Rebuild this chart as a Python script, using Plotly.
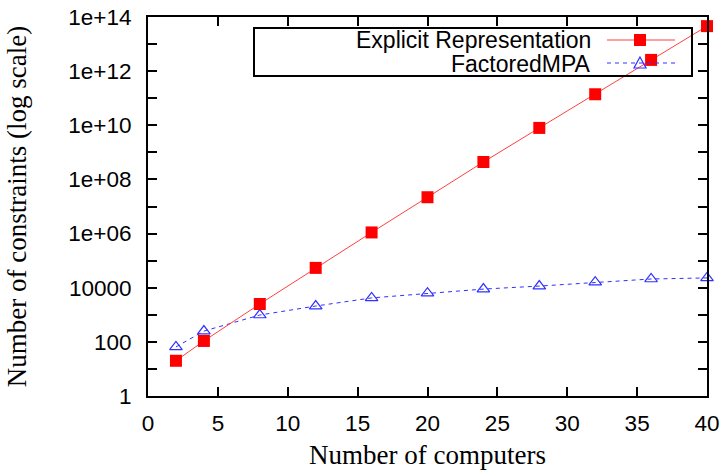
import plotly.graph_objects as go

computers = [2, 4, 8, 12, 16, 20, 24, 28, 32, 36, 40]
explicit = [20, 108, 2500, 5.4e4, 1.1e6, 2.2e7, 4.4e8, 8.0e9, 1.4e11, 2.6e12, 4.6e13]
factored = [65, 250, 980, 2100, 4200, 6300, 8900, 11500, 16000, 21000, 23000]

ytick_vals = [10**k for k in range(0, 15)]
ytick_text = ["1", "", "100", "", "10000", "", "1e+06", "", "1e+08", "", "1e+10", "", "1e+12", "", "1e+14"]
xtick_vals = [0, 5, 10, 15, 20, 25, 30, 35, 40]

fig = go.Figure()
fig.add_trace(go.Scatter(
    x=computers, y=factored, mode="lines+markers", name="FactoredMPA",
    line=dict(color="#3030ff", width=1, dash="4px,4px"),
    marker=dict(symbol="triangle-up-open", size=11, color="#3030ff", line=dict(width=1.2)),
    showlegend=False, cliponaxis=False))
fig.add_trace(go.Scatter(
    x=computers, y=explicit, mode="lines+markers", name="Explicit Representation",
    line=dict(color="#ff4040", width=1),
    marker=dict(symbol="square", size=12, color="#ff0000"),
    showlegend=False, cliponaxis=False))

axis_common = dict(showline=True, linecolor="black", linewidth=2, mirror="allticks",
                   ticks="inside", ticklen=9, tickwidth=2, tickcolor="black",
                   showgrid=False, zeroline=False, automargin=False,
                   tickfont=dict(family="Liberation Sans, Arial", size=22.5, color="black"))

fig.update_xaxes(range=[0, 40], tickvals=xtick_vals, ticklabelstandoff=6,
                 title=dict(text="Number of computers", standoff=12,
                            font=dict(family="Liberation Serif, Times New Roman", size=27, color="black")),
                 **axis_common)
fig.update_yaxes(type="log", range=[0, 14], tickvals=ytick_vals, ticktext=ytick_text,
                 ticklabelstandoff=10,
                 title=dict(text="Number of constraints (log scale)", standoff=34,
                            font=dict(family="Liberation Serif, Times New Roman", size=27, color="black")),
                 **axis_common)

# Manual legend (text right-aligned, sample to the right, as in the original)
shapes = [
    dict(type="rect", xref="paper", yref="paper", x0=(254-148)/559, x1=(692-148)/559,
         y0=(396-76)/379, y1=(396-28)/379, line=dict(color="black", width=2), layer="above"),
    dict(type="line", xref="paper", yref="paper", x0=(607-148)/559, x1=(675-148)/559,
         y0=(396-40)/379, y1=(396-40)/379, line=dict(color="#ff4040", width=1)),
    dict(type="line", xref="paper", yref="paper", x0=(607-148)/559, x1=(675-148)/559,
         y0=(396-63)/379, y1=(396-63)/379, line=dict(color="#3030ff", width=1, dash="4px,4px")),
    dict(type="rect", xref="paper", yref="paper", x0=(634-148)/559, x1=(646-148)/559,
         y0=(396-46)/379, y1=(396-34)/379, fillcolor="#ff0000", line=dict(width=0)),
    dict(type="path", xref="paper", yref="paper",
         path="M {:.4f} {:.4f} L {:.4f} {:.4f} L {:.4f} {:.4f} Z".format(
             (634-148)/559, (396-68)/379, (646-148)/559, (396-68)/379, (640-148)/559, (396-57)/379),
         line=dict(color="#3030ff", width=1.2)),
]
annotations = [
    dict(xref="paper", yref="paper", x=(592-148)/559, y=(396-39.5)/379, xanchor="right", yanchor="middle",
         text="Explicit Representation", showarrow=False, borderpad=0,
         font=dict(family="Liberation Sans, Arial", size=23, color="black")),
    dict(xref="paper", yref="paper", x=(592-148)/559, y=(396-63.5)/379, xanchor="right", yanchor="middle",
         text="FactoredMPA", showarrow=False, borderpad=0,
         font=dict(family="Liberation Sans, Arial", size=23, color="black")),
]

fig.update_layout(width=722, height=470, margin=dict(l=148, r=15, t=17, b=74),
                  plot_bgcolor="white", paper_bgcolor="white",
                  shapes=shapes, annotations=annotations)

fig.write_html("out.html", config={"displayModeBar": False},
               post_script="document.body.style.margin='0px';")
